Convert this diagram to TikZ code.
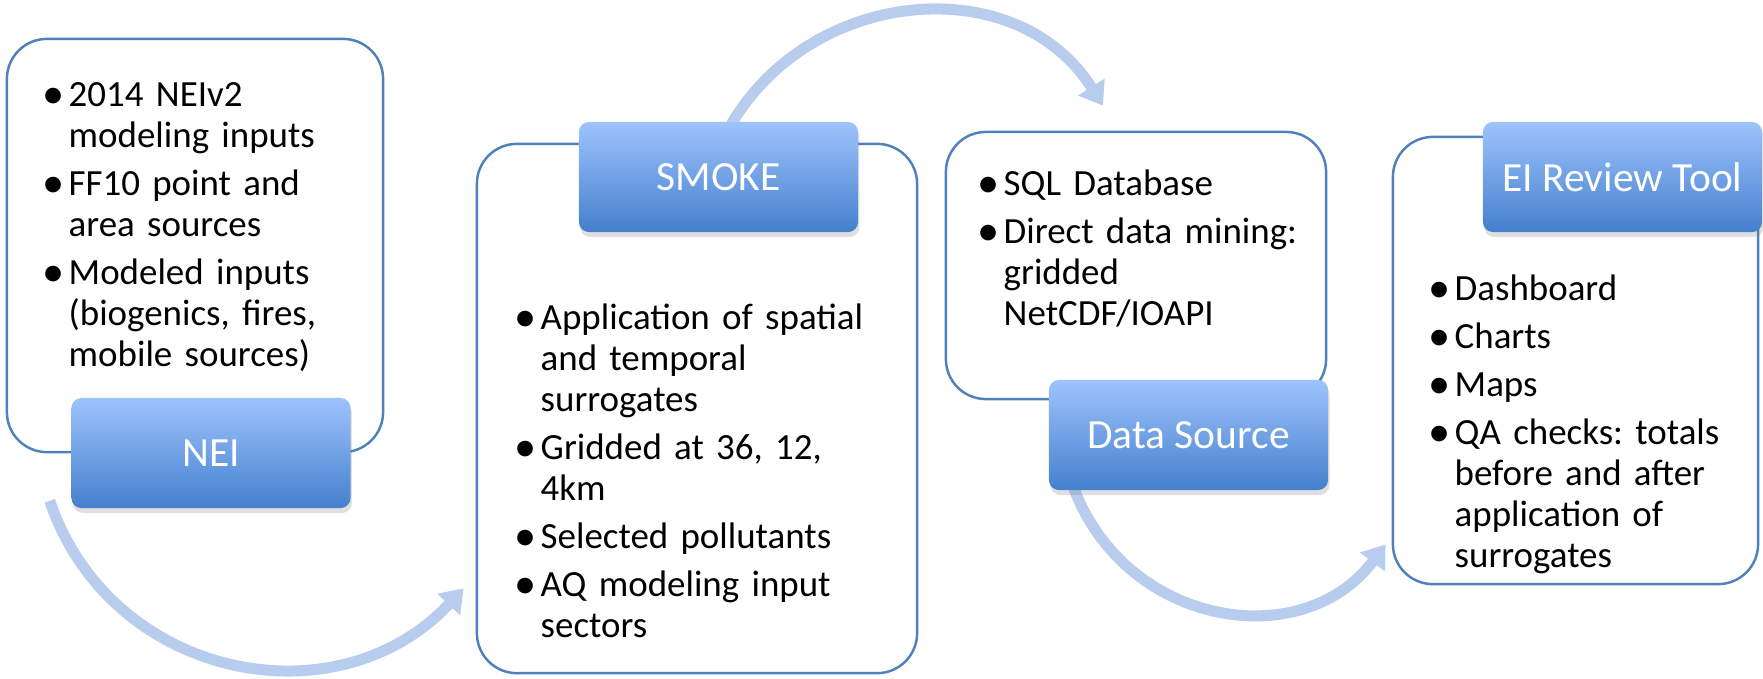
\documentclass[tikz,border=0pt]{standalone}
\usepackage{fontspec}
\setmainfont{Carlito}
\usetikzlibrary{arrows.meta,shadows,backgrounds}
\definecolor{boxC}{RGB}{79,129,189}
\definecolor{hdTopC}{RGB}{158,195,252}
\definecolor{hdBotC}{RGB}{68,128,206}
\definecolor{flowC}{RGB}{184,204,238}
\newcommand{\bitem}[1]{\noindent\hangindent=0.21cm\hangafter=1%
  \makebox[0.21cm][l]{\makebox[0.11cm]{\raisebox{-0.07em}{\scalebox{1.2}{\textbullet}}}}#1\par\vspace{2pt}}

\begin{document}
\begin{tikzpicture}[x=0.01cm,y=-0.01cm,
  outer/.style={draw=boxC,line width=0.7pt,fill=white,rounded corners=0.4cm,inner sep=0pt},
  hdr/.style={rounded corners=0.1cm,top color=hdTopC,bottom color=hdBotC,text=white,
    font=\fontsize{11.8}{14}\selectfont,minimum width=2.79cm,minimum height=1.10cm,
    drop shadow={shadow xshift=0.4pt,shadow yshift=-1.4pt,opacity=0.25}},
  bullets/.style={anchor=base west,inner sep=0pt,text width=3.6cm,
    font=\fontsize{10.5}{11.66}\selectfont\frenchspacing},
  flowarrow/.style={draw=flowC,line width=0.11cm,
    -{Triangle[length=0.22cm,width=0.30cm]}}]
  \useasboundingbox (0,0) rectangle (1763,678);

  % Outer boxes
  \node[outer,minimum width=3.76cm,minimum height=4.13cm] (neibox) at (195,245.5) {};
  \node[outer,minimum width=4.40cm,minimum height=5.29cm] (smokebox) at (697,408.5) {};
  \node[outer,minimum width=3.80cm,minimum height=2.67cm] (dsbox) at (1136,265.5) {};
  \node[outer,minimum width=3.65cm,minimum height=4.47cm] (eibox) at (1575.5,360.5) {};

  % Headers
  \node[hdr] (nei) at (211,453) {NEI};
  \node[hdr] (smoke) at (718.5,177) {SMOKE};
  \node[hdr] (ds) at (1188.5,435) {Data Source};
  \node[hdr] (ei) at (1622.5,177) {EI Review Tool};

  % Curved arrows (behind the headers)
  \begin{pgfonlayer}{background}
    \draw[flowarrow] ([shift={(-21,-8)}]nei.south west)
      .. controls +(60,178) and +(-127,136) .. ([shift={(-12,-86)}]smokebox.south west);
    \draw[flowarrow] ([shift={(10.5,7)}]smoke.north)
      .. controls +(79,-141) and +(-87,-138) .. ([shift={(-33,-25)}]dsbox.north);
    \draw[flowarrow] ([shift={(23,-10)}]ds.south west)
      .. controls +(48,144) and +(-85,113) .. ([shift={(-6,-41)}]eibox.south west);
  \end{pgfonlayer}

  % Bullet lists
  \node[bullets] (neitext) at (47,106) {%
    \bitem{2014 NEIv2\newline modeling inputs}%
    \bitem{FF10 point and\newline area sources}%
    \bitem{Modeled inputs\newline (biogenics, fires,\newline mobile sources)}};
  \node[bullets] (smoketext) at (519,329) {%
    \bitem{Application of spatial\newline and temporal\newline surrogates}%
    \bitem{Gridded at 36, 12,\newline 4km}%
    \bitem{Selected pollutants}%
    \bitem{AQ modeling input\newline sectors}};
  \node[bullets] (dstext) at (982,195) {%
    \bitem{SQL Database}%
    \bitem{Direct data mining:\newline gridded\newline NetCDF/IOAPI}};
  \node[bullets] (eitext) at (1433,300) {%
    \bitem{Dashboard}%
    \bitem{Charts}%
    \bitem{Maps}%
    \bitem{QA checks: totals\newline before and after\newline application of\newline surrogates}};
\end{tikzpicture}
\end{document}
